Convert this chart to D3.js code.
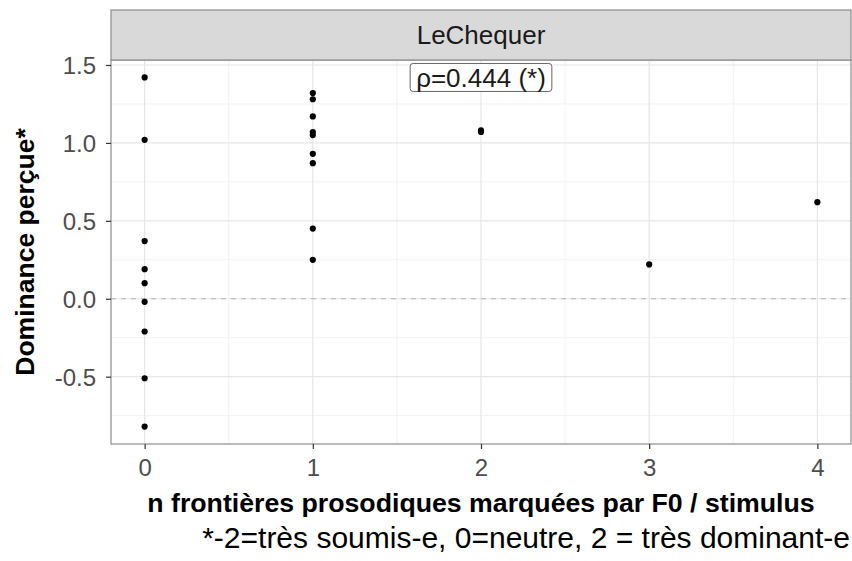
<!DOCTYPE html>
<html>
<head>
<meta charset="utf-8">
<script src="https://cdn.jsdelivr.net/npm/d3@7"></script>
<style>
  html, body { margin: 0; padding: 0; background: #ffffff; }
  svg { display: block; font-family: "Liberation Sans", Arial, Helvetica, sans-serif; }
</style>
</head>
<body>
<svg id="chart" width="852" height="561"></svg>
<script>
// ---- data ----
const panelTitle = "LeChequer";
const xValues = [0,0,0,0,0,0,0,0,0, 1,1,1,1,1,1,1,1,1, 2,2, 3, 4];
const yValues = [1.42,1.02,0.37,0.19,0.10,-0.02,-0.21,-0.51,-0.82,
                 1.32,1.28,1.17,1.07,1.05,0.93,0.87,0.45,0.25,
                 1.08,1.07, 0.22, 0.62];
const xTicks = [0,1,2,3,4];
const yTicks = [-0.5,0.0,0.5,1.0,1.5];
const yTickLabels = ["-0.5","0.0","0.5","1.0","1.5"];
const xMinor = [0.5,1.5,2.5,3.5];
const yMinor = [-0.75,-0.25,0.25,0.75,1.25];
const corrLabel = "ρ=0.444 (*)";
const xTitle = "n frontières prosodiques marquées par F0 / stimulus";
const yTitle = "Dominance perçue*";
const caption = "*-2=très soumis-e, 0=neutre, 2 = très dominant-e";

// ---- layout ----
const svg = d3.select("#chart");
const P = {left: 111, right: 851, top: 60, bottom: 444, stripTop: 10};

const xExt = d3.extent(xValues), yExt = d3.extent(yValues);
const xPad = (xExt[1]-xExt[0])*0.05, yPad = (yExt[1]-yExt[0])*0.05;
const x = d3.scaleLinear().domain([xExt[0]-xPad, xExt[1]+xPad]).range([P.left, P.right]);
const y = d3.scaleLinear().domain([yExt[0]-yPad, yExt[1]+yPad]).range([P.bottom, P.top]);

// panel background
svg.append("rect").attr("x", P.left).attr("y", P.top)
  .attr("width", P.right-P.left).attr("height", P.bottom-P.top).attr("fill", "#ffffff");

// grid
const grid = svg.append("g");
grid.selectAll(".xm").data(xMinor).join("line")
  .attr("x1", d=>x(d)).attr("x2", d=>x(d)).attr("y1", P.top).attr("y2", P.bottom)
  .attr("stroke", "#f2f2f2").attr("stroke-width", 1);
grid.selectAll(".ym").data(yMinor).join("line")
  .attr("y1", d=>y(d)).attr("y2", d=>y(d)).attr("x1", P.left).attr("x2", P.right)
  .attr("stroke", "#f2f2f2").attr("stroke-width", 1);
grid.selectAll(".xM").data(xTicks).join("line")
  .attr("x1", d=>x(d)).attr("x2", d=>x(d)).attr("y1", P.top).attr("y2", P.bottom)
  .attr("stroke", "#e6e6e6").attr("stroke-width", 1.2);
grid.selectAll(".yM").data(yTicks).join("line")
  .attr("y1", d=>y(d)).attr("y2", d=>y(d)).attr("x1", P.left).attr("x2", P.right)
  .attr("stroke", "#e6e6e6").attr("stroke-width", 1.2);

// zero dashed line
svg.append("line").attr("x1", P.left).attr("x2", P.right)
  .attr("y1", y(0)).attr("y2", y(0))
  .attr("stroke", "#b3b3b3").attr("stroke-width", 1.2).attr("stroke-dasharray", "5,5");

// points
svg.append("g").selectAll("circle").data(xValues.map((d,i)=>[d, yValues[i]])).join("circle")
  .attr("cx", d=>x(d[0])).attr("cy", d=>y(d[1])).attr("r", 3.1).attr("fill", "#000");

// correlation label
const lab = svg.append("g");
const lt = lab.append("text").attr("x", x(2)).attr("y", y(d3.max(yValues)) + 9.5)
  .attr("text-anchor", "middle").attr("font-size", 26).attr("fill", "#1a1a1a").text(corrLabel);
const bb = lt.node().getBBox();
lab.insert("rect", "text").attr("x", bb.x-6).attr("y", y(d3.max(yValues))-14)
  .attr("width", bb.width+12).attr("height", 28).attr("rx", 3)
  .attr("fill", "#fff").attr("stroke", "#666").attr("stroke-width", 1);

// panel border
svg.append("rect").attr("x", P.left).attr("y", P.top)
  .attr("width", P.right-P.left).attr("height", P.bottom-P.top)
  .attr("fill", "none").attr("stroke", "#8c8c8c").attr("stroke-width", 1.2);

// strip
svg.append("rect").attr("x", P.left).attr("y", P.stripTop)
  .attr("width", P.right-P.left).attr("height", P.top-P.stripTop)
  .attr("fill", "#d9d9d9").attr("stroke", "#8c8c8c").attr("stroke-width", 1.2);
svg.append("text").attr("x", 481).attr("y", 44)
  .attr("text-anchor", "middle").attr("font-size", 26).attr("fill", "#1a1a1a").text(panelTitle);

// axes
const xAxis = svg.append("g").attr("transform", `translate(0,${P.bottom})`)
  .call(d3.axisBottom(x).tickValues(xTicks).tickFormat(d3.format("d")).tickSize(5).tickPadding(10));
const yAxis = svg.append("g").attr("transform", `translate(${P.left},0)`)
  .call(d3.axisLeft(y).tickValues(yTicks).tickFormat((d,i)=>yTickLabels[i]).tickSize(5).tickPadding(10));
[xAxis, yAxis].forEach(a => {
  a.select(".domain").remove();
  a.selectAll(".tick line").attr("stroke", "#333").attr("stroke-width", 1.2);
  a.selectAll(".tick text").attr("font-size", 24).attr("fill", "#4d4d4d")
    .attr("font-family", "Liberation Sans, Arial, sans-serif");
});
yAxis.selectAll(".tick text").attr("dy", "0.36em");

// axis titles
svg.append("text").attr("x", 481).attr("y", 512)
  .attr("text-anchor", "middle").attr("font-size", 26.7).attr("font-weight", "bold")
  .attr("fill", "#000").text(xTitle);
svg.append("text").attr("transform", `translate(34,${(P.top+P.bottom)/2}) rotate(-90)`)
  .attr("text-anchor", "middle").attr("font-size", 26.5).attr("font-weight", "bold")
  .attr("fill", "#000").text(yTitle);

// caption
svg.append("text").attr("x", 850).attr("y", 548)
  .attr("text-anchor", "end").attr("font-size", 30).attr("fill", "#000").text(caption);
</script>
</body>
</html>
